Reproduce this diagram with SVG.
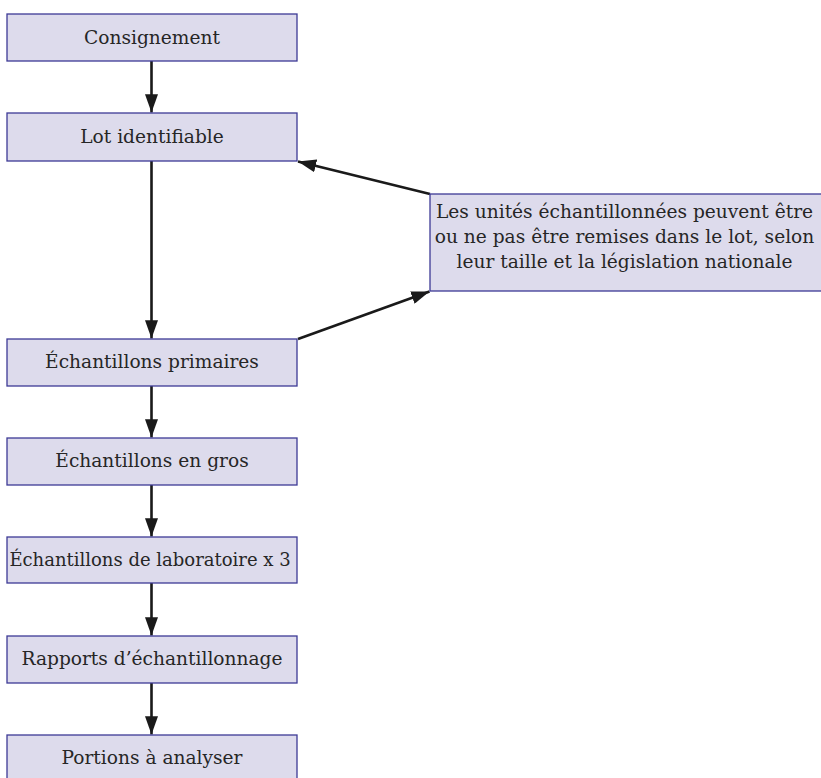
<svg xmlns="http://www.w3.org/2000/svg" width="821" height="778" viewBox="0 0 821 778">
<defs>
<style>
.box{fill:#dddbec;stroke:#3d3a96;stroke-width:1.3}
.t{font-family:"DejaVu Serif","Liberation Serif",serif;font-size:18.6px;fill:#262626;text-anchor:middle}
.c{stroke:#1a1a1a;stroke-width:2.6;fill:none;marker-end:url(#ah)}
</style>
<marker id="ah" markerWidth="7" markerHeight="5" refX="7" refY="2.5" orient="auto" markerUnits="strokeWidth">
<path d="M0,0 L7,2.5 L0,5 Z" fill="#1a1a1a"/>
</marker>
</defs>
<rect width="821" height="778" fill="#ffffff"/>
<g id="connectors">
<line class="c" x1="151.5" y1="61" x2="151.5" y2="112.5"/>
<line class="c" x1="151.5" y1="161" x2="151.5" y2="338.5"/>
<line class="c" x1="151.5" y1="386" x2="151.5" y2="437.5"/>
<line class="c" x1="151.5" y1="485" x2="151.5" y2="536.5"/>
<line class="c" x1="151.5" y1="583" x2="151.5" y2="635.5"/>
<line class="c" x1="151.5" y1="683" x2="151.5" y2="734.5"/>
<line class="c" x1="430" y1="194" x2="298" y2="161.5"/>
<line class="c" x1="298" y1="339" x2="429.5" y2="291.5"/>
</g>
<g id="n1"><rect class="box" x="7" y="14" width="290" height="47"/><text class="t" x="152" y="43.5">Consignement</text></g>
<g id="n2"><rect class="box" x="7" y="113" width="290" height="48"/><text class="t" x="152" y="142.5">Lot identifiable</text></g>
<g id="n3"><rect class="box" x="7" y="339" width="290" height="47"/><text class="t" x="152" y="368">Échantillons primaires</text></g>
<g id="n4"><rect class="box" x="7" y="438" width="290" height="47"/><text class="t" x="152" y="467">Échantillons en gros</text></g>
<g id="n5"><rect class="box" x="7" y="537" width="290" height="46"/><text class="t" x="150" y="565.5" style="font-size:18px">Échantillons de laboratoire x 3</text></g>
<g id="n6"><rect class="box" x="7" y="636" width="290" height="47"/><text class="t" x="152" y="665">Rapports d’échantillonnage</text></g>
<g id="n7"><rect class="box" x="7" y="735" width="290" height="47"/><text class="t" x="152" y="764">Portions à analyser</text></g>
<g id="n8"><rect class="box" x="430" y="194" width="400" height="97"/>
<text class="t" x="624.5" y="218">Les unités échantillonnées peuvent être</text>
<text class="t" x="624.5" y="243">ou ne pas être remises dans le lot, selon</text>
<text class="t" x="624.5" y="268">leur taille et la législation nationale</text>
</g>
</svg>
